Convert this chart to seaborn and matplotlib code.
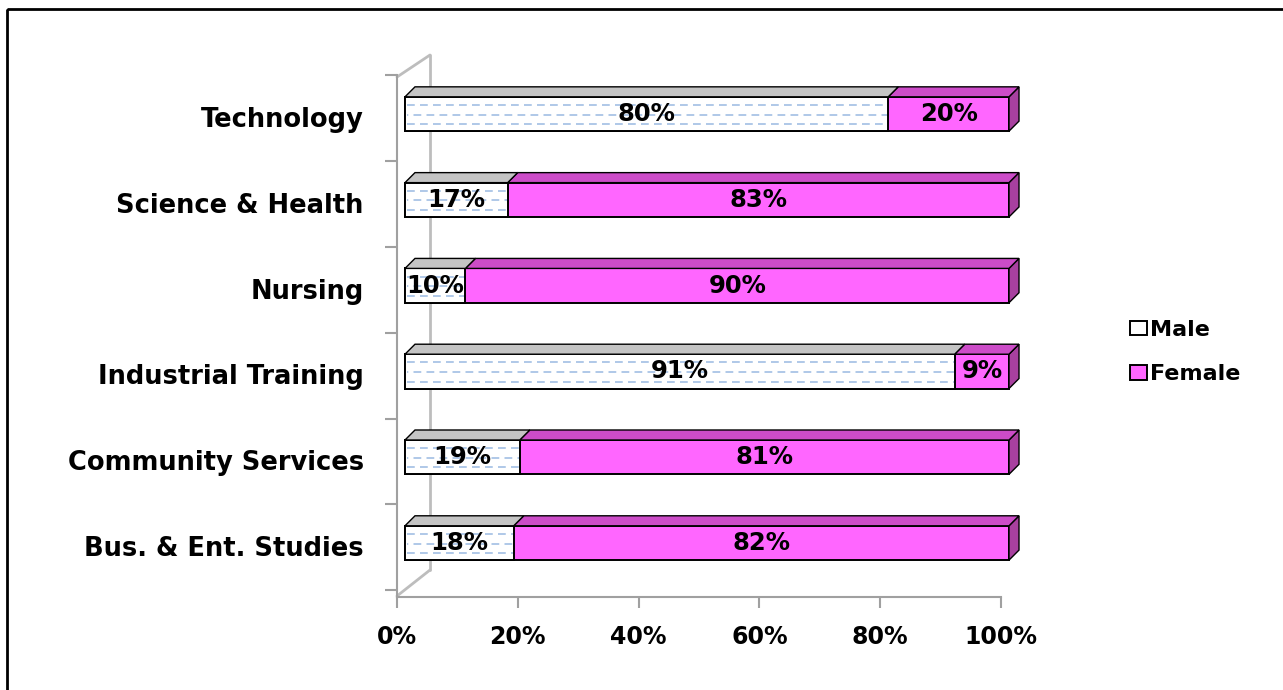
import matplotlib
matplotlib.use("Agg")
import matplotlib.pyplot as plt
import seaborn as sns
from matplotlib.patches import Polygon, Rectangle, Patch
from matplotlib.lines import Line2D
from matplotlib.transforms import ScaledTranslation

# --- data ---
categories = ["Technology", "Science & Health", "Nursing", "Industrial Training",
              "Community Services", "Bus. & Ent. Studies"]
male = [80, 17, 10, 91, 19, 18]
female = [20, 83, 90, 9, 81, 82]
totals = [m + f for m, f in zip(male, female)]
xticks = [0, 20, 40, 60, 80, 100]

# --- style ---
sns.set_style("white")
plt.rcParams["font.family"] = ["DejaVu Sans"]
plt.rcParams["font.weight"] = "bold"
plt.rcParams["text.color"] = "black"

FEMALE = "#FF66FF"
FEMALE_TOP = "#CC4CC8"
FEMALE_SIDE = "#A8409F"
MALE = "#FFFFFF"
MALE_TOP = "#C4C4C4"
HATCH = "#A9C4E6"
AXIS = "#A0A0A0"
DX, DY = 10, 10   # depth of the bars in pixels
SHIFT = 8         # bars sit a little right of the axis (3D projection)
H = 690

fig = plt.figure(figsize=(12.83, 6.90), dpi=100)
ax = fig.add_axes([397 / 1283, 93 / 690, 604 / 1283, 522 / 690])
ax.patch.set_alpha(0)

# female bars span full width, male drawn over them
sns.barplot(x=totals, y=categories, color=FEMALE, width=0.4, saturation=1,
            edgecolor="black", linewidth=1.4, ax=ax)
n_f = len(ax.patches)
sns.barplot(x=male, y=categories, color=MALE, width=0.4, saturation=1,
            edgecolor="none", linewidth=0, ax=ax)
male_patches = ax.patches[n_f:]
female_patches = ax.patches[:n_f]

ax.set_xlim(0, 100)
ax.set_ylim(5.63, -0.4545)
ax.set_xlabel("")
ax.set_ylabel("")

shift = ScaledTranslation(SHIFT / 100, 0, fig.dpi_scale_trans)
for p in ax.patches:
    p.set_transform(ax.transData + shift)
    p.set_clip_on(False)

fig.canvas.draw()
to_disp = ax.transData.transform


def box(p):
    x0, y0 = p.get_x(), p.get_y()
    (a, b) = to_disp((x0, y0))
    (c, d) = to_disp((x0 + p.get_width(), y0 + p.get_height()))
    return min(a, c) + SHIFT, max(a, c) + SHIFT, min(b, d), max(b, d)


def add_px(artist, z):
    # artist given in pixel coordinates, drawn inside the axes
    artist.set_zorder(z)
    ax.add_artist(artist)
    artist.set_clip_on(False)


def face(pts, color):
    add_px(Polygon(pts, closed=True, facecolor=color, edgecolor="black",
                   linewidth=1.0, transform=None), 3)


for pf, pm in zip(female_patches, male_patches):
    xl, xr, yb, yt = box(pf)
    ml, mr, _, _ = box(pm)
    # right side face of the whole bar
    face([(xr, yb), (xr + DX, yb + DY), (xr + DX, yt + DY), (xr, yt)], FEMALE_SIDE)
    # top faces
    face([(mr, yt), (xr, yt), (xr + DX, yt + DY), (mr + DX, yt + DY)], FEMALE_TOP)
    face([(ml, yt), (mr, yt), (mr + DX, yt + DY), (ml + DX, yt + DY)], MALE_TOP)
    # dashed light-blue pattern on the male front face
    for k, fr in enumerate([0.2, 0.48, 0.76]):
        yy = yb + fr * (yt - yb)
        add_px(Line2D([ml + 2, mr - 1], [yy, yy], color=HATCH, linewidth=1.3,
                      linestyle=(3.6 * (k % 2), (4.3, 2.9)), transform=None), 2.2)
    # outline of male front face
    add_px(Rectangle((ml, yb), mr - ml, yt - yb, fill=False, edgecolor="black",
                     linewidth=1.4, transform=None), 2.5)

# value labels
for i in range(len(categories)):
    ax.text(male[i] / 2, i, f"{male[i]}%", ha="center", va="center", color="black",
            fontsize=17.5, fontweight="bold", zorder=5, transform=ax.transData + shift)
    ax.text(male[i] + female[i] / 2, i, f"{female[i]}%", ha="center", va="center",
            color="black", fontsize=17.5, fontweight="bold", zorder=5,
            transform=ax.transData + shift)

# axes styling
for s in ["top", "right"]:
    ax.spines[s].set_visible(False)
for s in ["left", "bottom"]:
    ax.spines[s].set_color(AXIS)
    ax.spines[s].set_linewidth(1.5)

ax.set_xticks(xticks)
ax.set_xticklabels([f"{t}%" for t in xticks], fontsize=17, fontweight="bold")
ax.tick_params(axis="x", bottom=True, length=8, width=1.5, color=AXIS, labelcolor="black",
               direction="out", pad=12)
ax.set_yticks(range(len(categories)))
ax.set_yticklabels(categories, fontsize=18.5, fontweight="bold")
ax.tick_params(axis="y", which="major", left=False, length=0, pad=24, labelcolor="black")
ax.set_yticks([-0.45, 0.55, 1.55, 2.55, 3.55, 4.55, 5.55], minor=True)
ax.tick_params(axis="y", which="minor", left=True, length=9, width=1.5, color=AXIS,
               direction="out")
for lab in ax.get_yticklabels():
    lab.set_transform(lab.get_transform() + ScaledTranslation(0, -3 / 100, fig.dpi_scale_trans))

# back wall lines (3D look), behind the bars
wall = [[(397, H - 77), (430, H - 55)], [(430, H - 55), (430, H - 570)],
        [(430, H - 570), (397, H - 596)]]
for (x0, y0), (x1, y1) in wall:
    fig.lines.append(Line2D([x0, x1], [y0, y1], color="#BDBDBD", linewidth=2,
                            transform=None, zorder=-1, figure=fig))

# legend
handles = [Patch(facecolor="white", edgecolor="black", linewidth=1.4, label="Male"),
           Patch(facecolor=FEMALE, edgecolor="black", linewidth=1.4, label="Female")]
fig.legend(handles=handles, loc="center left", bbox_to_anchor=(1110 / 1283, 1 - 352 / 690),
           frameon=False, prop={"weight": "bold", "size": 16},
           handlelength=0.75, handleheight=0.65, handletextpad=0.15, labelspacing=1.1)

# outer border (only top/left visible in the original)
fig.patches.append(Rectangle((7, H - 9), 1400, -800, fill=False, edgecolor="black",
                             linewidth=2, transform=None, figure=fig))

fig.savefig("out.png", dpi=100)
